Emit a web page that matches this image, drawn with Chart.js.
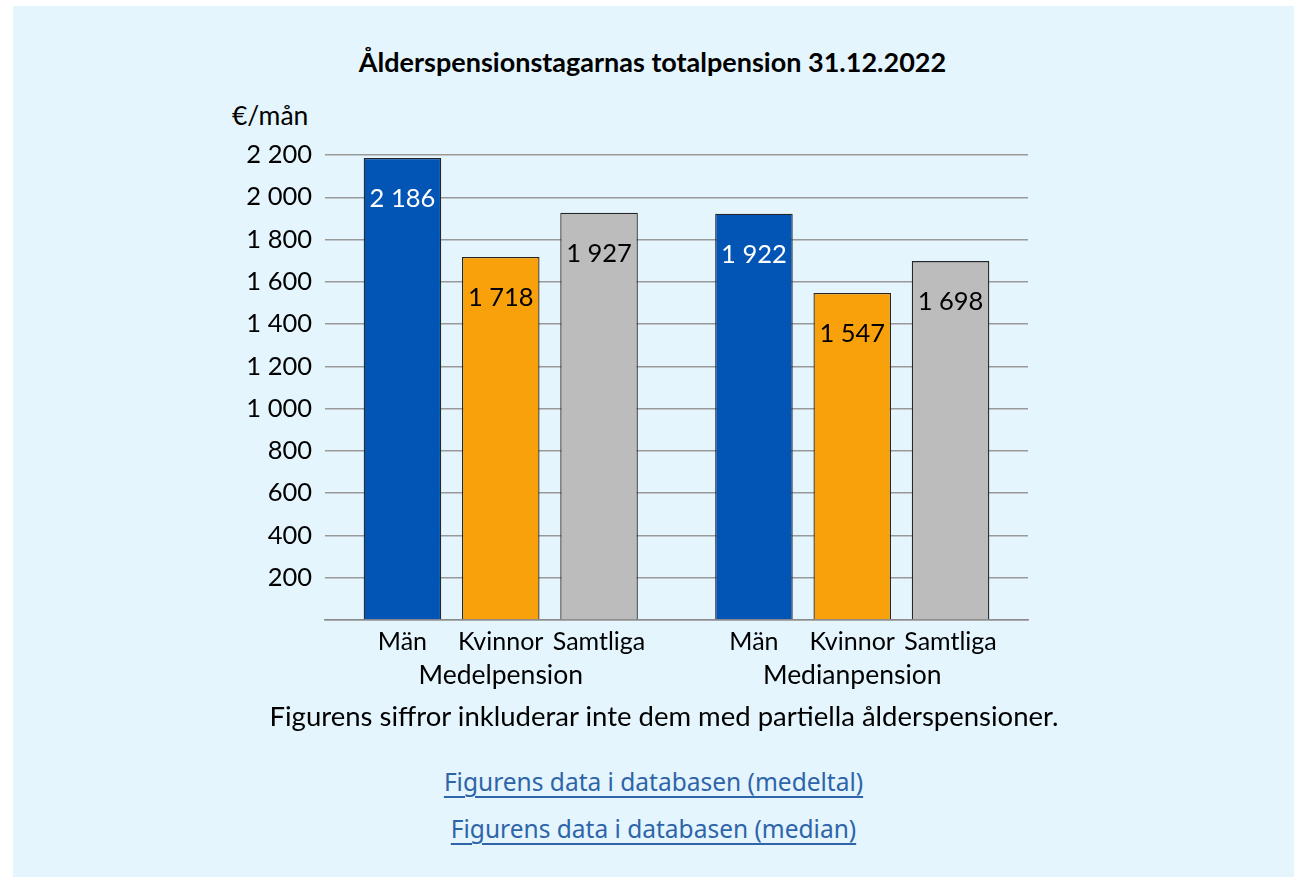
<!DOCTYPE html>
<html>
<head>
<meta charset="utf-8">
<script src="https://cdn.jsdelivr.net/npm/chart.js@4"></script>
<style>
  body { margin: 0; background: #fff; font-family: Lato, sans-serif; }
  #panel { position: absolute; left: 13px; top: 6px; width: 1281px; height: 871px; background: #e4f5fd; }
  .txt { position: absolute; white-space: nowrap; color: #000; line-height: 30px; }
  #title { left: 0; width: 1305px; top: 47px; text-align: center; font-weight: bold; font-size: 27px; }
  #unit { left: 232px; top: 100px; font-size: 26.5px; }
  #note { left: 0; width: 1328px; top: 701px; text-align: center; font-size: 27.5px; }
  .link { left: 0; width: 1307px; text-align: center; font-family: "Noto Sans", sans-serif; font-size: 24.5px; }
  .link a { color: #2e64a9; text-decoration: underline; text-decoration-thickness: 1.5px; text-underline-offset: 5px; }
  #wrap { position: absolute; left: 200px; top: 120px; width: 860px; height: 580px; }
</style>
</head>
<body>
<div id="panel"></div>
<div class="txt" id="title">Ålderspensionstagarnas totalpension 31.12.2022</div>
<div class="txt" id="unit">€/mån</div>
<div id="wrap"><canvas id="chart"></canvas></div>
<div class="txt" id="note">Figurens siffror inkluderar inte dem med partiella ålderspensioner.</div>
<div class="txt link" style="top:767px"><a href="#">Figurens data i databasen (medeltal)</a></div>
<div class="txt link" style="top:814px"><a href="#">Figurens data i databasen (median)</a></div>
<script>
// grupper och serier
const groups = ["Medelpension", "Medianpension"];
const seriesNames = ["Män", "Kvinnor", "Samtliga"];
const man = [2186, 1922];
const kvinnor = [1718, 1547];
const samtliga = [1927, 1698];
const yTicks = [0, 200, 400, 600, 800, 1000, 1200, 1400, 1600, 1800, 2000, 2200];

const colors = ["#0255b4", "#f9a10b", "#bcbcbc"];
const labelColors = ["#fff", "#000", "#000"];
const font = "Lato, sans-serif";

const fmt = v => String(v).replace(/\B(?=(\d{3})+(?!\d))/g, " ");

// värden i staplarna och seriernamn under staplarna
const barText = {
  id: "barText",
  afterDatasetsDraw(chart) {
    const ctx = chart.ctx;
    ctx.save();
    ctx.textAlign = "center";
    ctx.textBaseline = "middle";
    chart.data.datasets.forEach((ds, i) => {
      chart.getDatasetMeta(i).data.forEach((bar, j) => {
        ctx.font = "25.5px " + font;
        ctx.fillStyle = labelColors[i];
        ctx.fillText(fmt(ds.data[j]), bar.x, bar.y + 41);
        ctx.font = "25px " + font;
        ctx.fillStyle = "#000";
        ctx.fillText(ds.label, bar.x, chart.chartArea.bottom + 22);
      });
    });
    ctx.restore();
  }
};

new Chart(document.getElementById("chart"), {
  type: "bar",
  data: {
    labels: groups,
    datasets: [man, kvinnor, samtliga].map((d, i) => ({
      label: seriesNames[i],
      data: d,
      backgroundColor: colors[i],
      borderColor: "#262626",
      borderWidth: 1.3,
      categoryPercentage: 0.839,
      barPercentage: 0.789
    }))
  },
  options: {
    responsive: true,
    maintainAspectRatio: false,
    animation: false,
    layout: { padding: { top: 35, right: 32, left: 0, bottom: 0 } },
    plugins: { legend: { display: false }, tooltip: { enabled: false } },
    scales: {
      x: {
        grid: { display: false, drawTicks: false },
        border: { color: "#8c8c8c", width: 1.5 },
        ticks: { color: "#000", font: { family: font, size: 26.5 }, padding: 40 },
        afterFit: s => { s.height = 80; }
      },
      y: {
        min: 0,
        max: 2200,
        afterBuildTicks: s => { s.ticks = yTicks.map(v => ({ value: v })); },
        grid: { color: "#999999", lineWidth: 1.5, drawTicks: false },
        border: { display: false },
        ticks: {
          color: "#000",
          font: { family: font, size: 25.5 },
          padding: 13,
          callback: v => (v === 0 ? "" : fmt(v))
        },
        afterFit: s => { s.width = 125; }
      }
    }
  },
  plugins: [barText]
});
</script>
</body>
</html>
